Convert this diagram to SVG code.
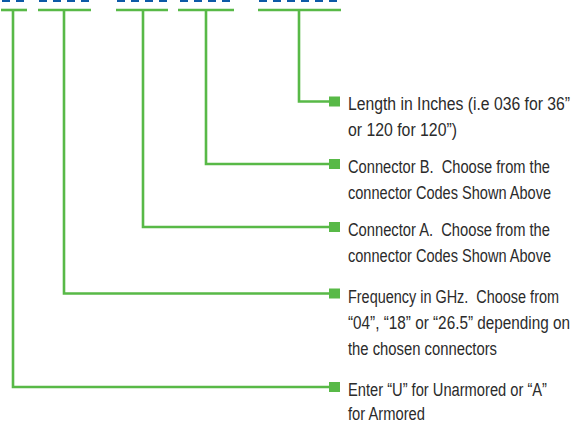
<svg xmlns="http://www.w3.org/2000/svg" width="574" height="423" viewBox="0 0 574 423">
<style>
.dash{stroke:#0d5aa7;stroke-width:3;stroke-dasharray:8 6;fill:none}
.bar{stroke:#58b947;stroke-width:2.6;fill:none}
.sq{fill:#58b947}
.t{font-family:"Liberation Sans",Arial,sans-serif;font-size:19px;fill:#2b2b2b;white-space:pre}
</style>
<rect width="574" height="423" fill="#ffffff"/>
<g id="codes">
<line class="dash" x1="2" y1="0.5" x2="26" y2="0.5"/>
<line class="dash" x1="39" y1="0.5" x2="91" y2="0.5"/>
<line class="dash" x1="117" y1="0.5" x2="168" y2="0.5"/>
<line class="dash" x1="180" y1="0.5" x2="234" y2="0.5"/>
<line class="dash" x1="259" y1="0.5" x2="341" y2="0.5"/>
</g>
<g id="connectors">
<path class="bar" d="M1,10H27"/>
<path class="bar" d="M38,10H91"/>
<path class="bar" d="M116,10H168"/>
<path class="bar" d="M178,10H234"/>
<path class="bar" d="M258,10H341"/>
<path class="bar" d="M299,10V101.5H334"/>
<path class="bar" d="M206,10V164H334"/>
<path class="bar" d="M143,10V227H334"/>
<path class="bar" d="M64,10V293.5H334"/>
<path class="bar" d="M13,10V387H334"/>
</g>
<g id="n-length">
<rect class="sq" x="329" y="96.5" width="11" height="10"/>
<text class="t" transform="scale(0.8,1)"><tspan x="435" y="110.5" textLength="277.5" lengthAdjust="spacingAndGlyphs">Length in Inches (i.e 036 for 36”</tspan><tspan x="435" y="136" textLength="136.25" lengthAdjust="spacingAndGlyphs">or 120 for 120”)</tspan></text>
</g>
<g id="n-connB">
<rect class="sq" x="329" y="159" width="11" height="10"/>
<text class="t" transform="scale(0.8,1)"><tspan x="435" y="173" textLength="252.5" lengthAdjust="spacingAndGlyphs">Connector B.  Choose from the</tspan><tspan x="435" y="199" textLength="253.75" lengthAdjust="spacingAndGlyphs">connector Codes Shown Above</tspan></text>
</g>
<g id="n-connA">
<rect class="sq" x="329" y="222" width="11" height="10"/>
<text class="t" transform="scale(0.8,1)"><tspan x="435" y="236" textLength="252.5" lengthAdjust="spacingAndGlyphs">Connector A.  Choose from the</tspan><tspan x="435" y="262" textLength="253.75" lengthAdjust="spacingAndGlyphs">connector Codes Shown Above</tspan></text>
</g>
<g id="n-freq">
<rect class="sq" x="329" y="288.5" width="11" height="10"/>
<text class="t" transform="scale(0.8,1)"><tspan x="435" y="303" textLength="263.75" lengthAdjust="spacingAndGlyphs">Frequency in GHz.  Choose from</tspan><tspan x="435" y="329" textLength="277.5" lengthAdjust="spacingAndGlyphs">“04”, “18” or “26.5” depending on</tspan><tspan x="435" y="355" textLength="186.25" lengthAdjust="spacingAndGlyphs">the chosen connectors</tspan></text>
</g>
<g id="n-enter">
<rect class="sq" x="329" y="382" width="11" height="10"/>
<text class="t" transform="scale(0.8,1)"><tspan x="435" y="396" textLength="248.75" lengthAdjust="spacingAndGlyphs">Enter “U” for Unarmored or “A”</tspan><tspan x="435" y="420" textLength="96.25" lengthAdjust="spacingAndGlyphs">for Armored</tspan></text>
</g>
</svg>
